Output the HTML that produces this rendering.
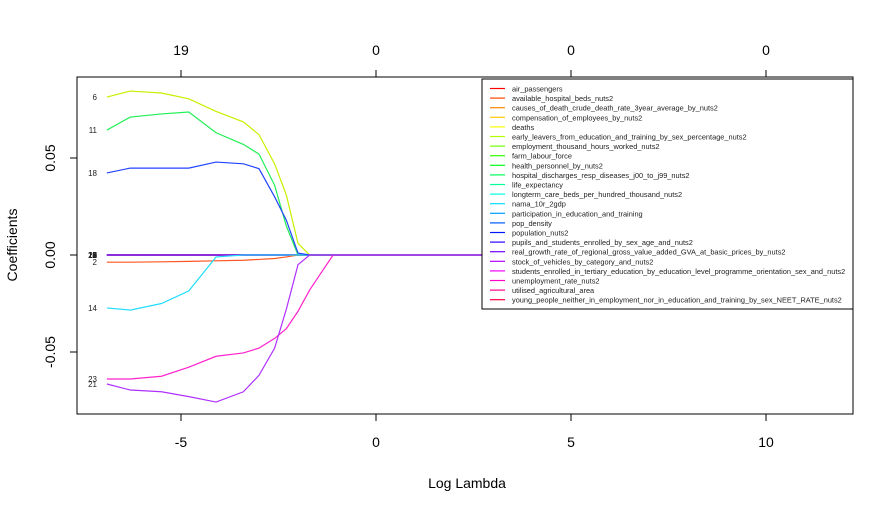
<!DOCTYPE html>
<html><head><meta charset="utf-8"><style>
body{margin:0;background:#fff}
svg{display:block;font-family:"Liberation Sans",sans-serif}
</style></head><body>
<svg id="chart" width="894" height="513" viewBox="0 0 894 513" xmlns="http://www.w3.org/2000/svg"></svg>
<script>
const lambdaGrid = [-6.9,-6.3,-5.5,-4.8,-4.1,-3.4,-3.0,-2.6,-2.3,-2.0,-1.7,-1.4,-1.1,12.2];
const seriesNames = ["air_passengers","available_hospital_beds_nuts2","causes_of_death_crude_death_rate_3year_average_by_nuts2","compensation_of_employees_by_nuts2","deaths","early_leavers_from_education_and_training_by_sex_percentage_nuts2","employment_thousand_hours_worked_nuts2","farm_labour_force","health_personnel_by_nuts2","hospital_discharges_resp_diseases_j00_to_j99_nuts2","life_expectancy","longterm_care_beds_per_hundred_thousand_nuts2","nama_10r_2gdp","participation_in_education_and_training","pop_density","population_nuts2","pupils_and_students_enrolled_by_sex_age_and_nuts2","real_growth_rate_of_regional_gross_value_added_GVA_at_basic_prices_by_nuts2","stock_of_vehicles_by_category_and_nuts2","students_enrolled_in_tertiary_education_by_education_level_programme_orientation_sex_and_nuts2","unemployment_rate_nuts2","utilised_agricultural_area","young_people_neither_in_employment_nor_in_education_and_training_by_sex_NEET_RATE_nuts2"];
const coef2 = [-0.0037,-0.0037,-0.0035,-0.0033,-0.003,-0.0027,-0.0023,-0.0018,-0.001,0,0,0,0,0];
const coef6 = [0.0814,0.0845,0.0835,0.0805,0.074,0.0686,0.062,0.047,0.031,0.006,0,0,0,0];
const coef11 = [0.0644,0.0711,0.0727,0.0737,0.063,0.057,0.052,0.036,0.015,0,0,0,0,0];
const coef14 = [-0.0273,-0.0284,-0.025,-0.0185,-0.001,0,0,0,0,0,0,0,0,0];
const coef18 = [0.0423,0.0448,0.0448,0.0448,0.0479,0.047,0.0445,0.030,0.018,0.001,0,0,0,0];
const coef21 = [-0.0665,-0.0696,-0.0705,-0.073,-0.0758,-0.0705,-0.062,-0.048,-0.028,-0.005,0,0,0,0];
const coef23 = [-0.0639,-0.0639,-0.0625,-0.0578,-0.0522,-0.0505,-0.048,-0.043,-0.038,-0.029,-0.018,-0.009,0,0];
const xTicks = [-5,0,5,10];
const topTickLabels = ["19","0","0","0"];
const yTicks = [-0.05,0,0.05];
const yTickLabels = ["-0.05","0.00","0.05"];

const nonZero = {2:coef2,6:coef6,11:coef11,14:coef14,18:coef18,21:coef21,23:coef23};
const lineColors = {2:'#ff5522',6:'#c8f000',11:'#22ee55',14:'#22ddff',18:'#2244ff',21:'#b030ff',23:'#ff22cc'};
const NS="http://www.w3.org/2000/svg";
const svg=document.getElementById('chart');
const X=v=>181+(v+5)*39;
const Y=v=>255-v*1940;
function mk(t,a,p){const e=document.createElementNS(NS,t);for(const k in a)e.setAttribute(k,a[k]);(p||svg).appendChild(e);return e;}
function col(i){return `hsl(${(i/23)*360},100%,50%)`;}

const plot=mk('g',{});


for(let i=1;i<=23;i++){
  if(nonZero[i])continue;
  const p=mk('polyline',{points:lambdaGrid.map(l=>X(l)+','+Y(0)).join(' '),fill:'none',stroke:col(i-1),'stroke-width':1.2},plot);
  
  
}
mk('line',{x1:X(lambdaGrid[0]),x2:X(lambdaGrid[lambdaGrid.length-1]),y1:Y(0),y2:Y(0),stroke:'#8a2be2','stroke-width':1.4},plot);
for(const k of [2,6,11,14,18,23,21]){
  const vals=nonZero[k];
  const p=mk('polyline',{points:lambdaGrid.map((l,j)=>X(l)+','+Y(vals[j])).join(' '),fill:'none',stroke:lineColors[k],'stroke-width':1.2},plot);
  
  
}
for(let i=1;i<=23;i++){
  const vals=nonZero[i]||lambdaGrid.map(()=>0);
  const t=mk('text',{x:97,y:Y(vals[0])+3,'font-size':8,'text-anchor':'end',fill:'#222'});
  t.textContent=i;
  
  
}
const frame=mk('rect',{x:77,y:77,width:776,height:337,fill:'none',stroke:'#000','stroke-width':1});


xTicks.forEach((v,i)=>{
  mk('line',{x1:X(v),x2:X(v),y1:414,y2:421,stroke:'#000'});
  const t=mk('text',{x:X(v),y:447,'font-size':14,'text-anchor':'middle'});t.textContent=v;
  
  
  mk('line',{x1:X(v),x2:X(v),y1:77,y2:70,stroke:'#000'});
  const u=mk('text',{x:X(v),y:55,'font-size':14,'text-anchor':'middle'});u.textContent=topTickLabels[i];
  
  
});
yTicks.forEach((v,i)=>{
  mk('line',{x1:77,x2:70,y1:Y(v),y2:Y(v),stroke:'#000'});
  const t=mk('text',{x:55,y:Y(v),'font-size':14,'text-anchor':'middle',transform:`rotate(-90 55 ${Y(v)})`});t.textContent=yTickLabels[i];
  
  
});
const xt=mk('text',{x:467,y:488,'font-size':14,'text-anchor':'middle'});xt.textContent='Log Lambda';


const yt=mk('text',{x:17,y:245,'font-size':14,'text-anchor':'middle',transform:'rotate(-90 17 245)'});yt.textContent='Coefficients';


const lg=mk('g',{});


mk('rect',{x:482,y:79,width:371,height:230,fill:'#fff',stroke:'#000','stroke-width':1},lg);
seriesNames.forEach((n,i)=>{
  const y=88.5+i*9.6;
  const g=mk('g',{},lg);
  
  
  mk('line',{x1:490,x2:505,y1:y,y2:y,stroke:col(i),'stroke-width':1.2},g);
  const t=mk('text',{x:512,y:y+3,'font-size':7.4,fill:'#222'},g);t.textContent=n;
});
</script>
</body></html>
